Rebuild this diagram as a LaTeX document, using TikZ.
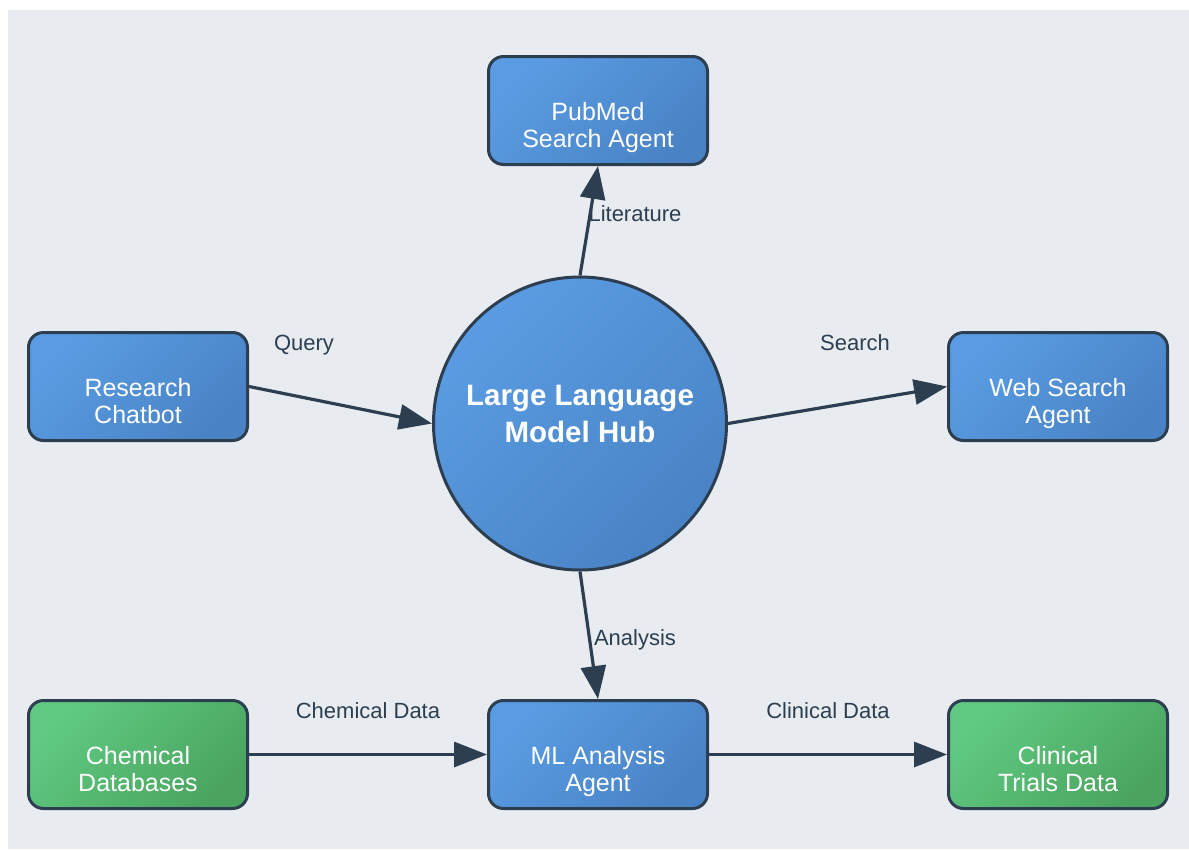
\documentclass[tikz,border=0pt]{standalone}
\usepackage{fontspec}
\setmainfont{Liberation Sans}
\usetikzlibrary{arrows.meta}

\definecolor{ink}{HTML}{2C3E50}
\definecolor{canvas}{HTML}{E8ECF0}
\definecolor{blueA}{HTML}{5A9CE3}
\definecolor{blueB}{HTML}{4983C5}
\definecolor{greenA}{HTML}{60CA82}
\definecolor{greenB}{HTML}{4AA45F}

\begin{document}
\begin{tikzpicture}[x=1pt, y=-1pt,
  agentbox/.style={draw=ink, line width=3pt, rounded corners=15pt,
    minimum width=219pt, minimum height=108pt, inner sep=0pt},
  bluefill/.style={top color=blueA, bottom color=blueB, shading angle=45},
  greenfill/.style={top color=greenA, bottom color=greenB, shading angle=45},
  hubshape/.style={circle, draw=ink, line width=3pt, minimum size=293pt,
    inner sep=0pt, bluefill},
  boxtext/.style={text=white, align=center, inner sep=0pt, anchor=north,
    font=\fontsize{25}{27}\selectfont},
  hubtext/.style={text=white, align=center, inner sep=0pt, anchor=north,
    font=\bfseries\fontsize{29.5}{37}\selectfont},
  flowlabel/.style={text=ink, inner sep=0pt, anchor=base,
    font=\fontsize{22}{25}\selectfont},
  flow/.style={draw=ink, line width=3.2pt,
    -{Triangle[length=33pt, width=25pt]}}
]
% canvas
\fill[white] (0,0) rectangle (1189,849);
\fill[canvas] (8,10) rectangle (1189,849);

% central hub
\node[hubshape] (hub) at (580,423.5) {};
\node[hubtext] (hub-t) at ([yshift=39pt]hub.center) {Large Language\\Model Hub};

% agents and data sources
\node[agentbox, bluefill] (pubmed) at (598,110.5) {};
\node[boxtext] (pubmed-t) at ([yshift=8pt]pubmed.center) {PubMed\\Search Agent};

\node[agentbox, bluefill] (chat) at (138,386.5) {};
\node[boxtext] (chat-t) at ([yshift=8pt]chat.center) {Research\\Chatbot};

\node[agentbox, bluefill] (web) at (1058,386.5) {};
\node[boxtext] (web-t) at ([yshift=8pt]web.center) {Web Search\\Agent};

\node[agentbox, greenfill] (chem) at (138,754.5) {};
\node[boxtext] (chem-t) at ([yshift=8pt]chem.center) {Chemical\\Databases};

\node[agentbox, bluefill] (ml) at (598,754.5) {};
\node[boxtext] (ml-t) at ([yshift=8pt]ml.center) {ML Analysis\\Agent};

\node[agentbox, greenfill] (clin) at (1058,754.5) {};
\node[boxtext] (clin-t) at ([yshift=8pt]clin.center) {Clinical\\Trials Data};

% connectors
\draw[flow] (chat.east) -- (hub.west);
\draw[flow] (hub.north) -- (pubmed.south);
\draw[flow] (hub.east) -- (web.west);
\draw[flow] (hub.south) -- (ml.north);
\draw[flow] (chem.east) -- (ml.west);
\draw[flow] (ml.east) -- (clin.west);

% connector labels
\node[flowlabel] (l-query) at (304,350) {Query};
\node[flowlabel] (l-lit) at (635,221.5) {Literature};
\node[flowlabel] (l-search) at (855,350) {Search};
\node[flowlabel] (l-analysis) at (635,645) {Analysis};
\node[flowlabel] (l-chem) at (368,718.3) {Chemical Data};
\node[flowlabel] (l-clin) at (828,718.3) {Clinical Data};
\end{tikzpicture}
\end{document}
